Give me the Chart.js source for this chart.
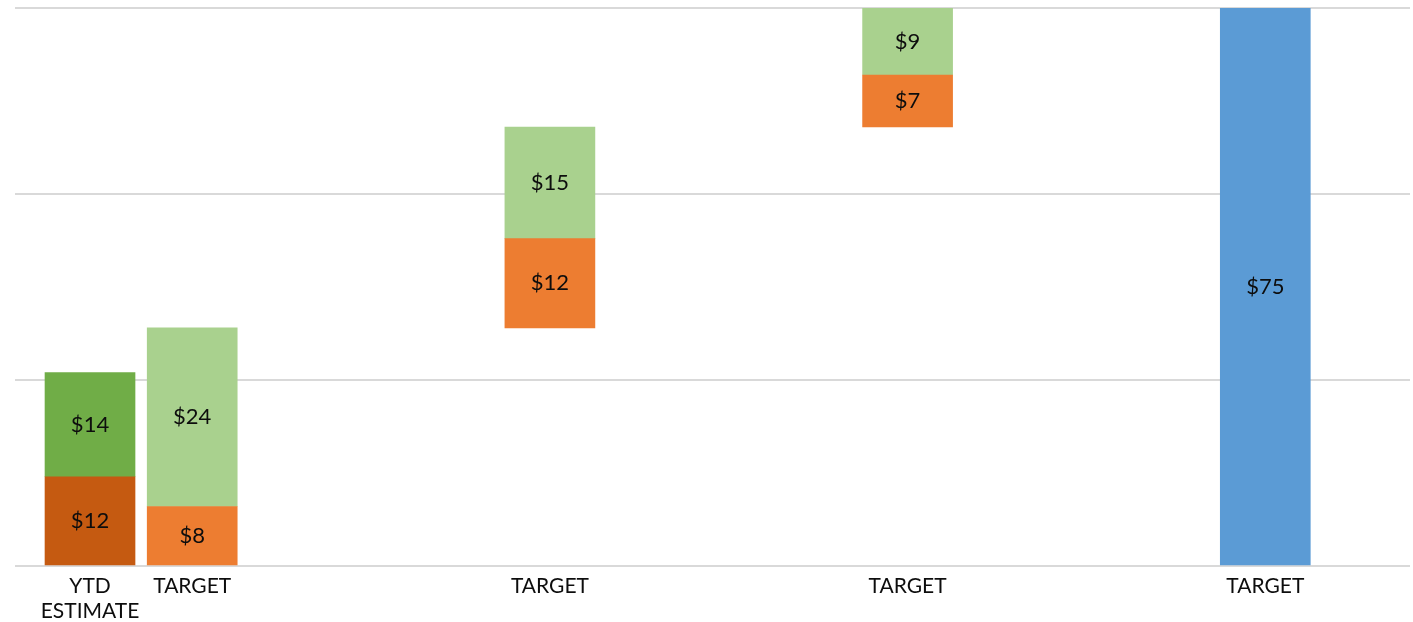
<!DOCTYPE html>
<html><head><meta charset="utf-8">
<script src="https://cdn.jsdelivr.net/npm/chart.js@4.4.1/dist/chart.umd.min.js"></script>
<style>html,body{margin:0;padding:0;background:#fff;overflow:hidden}#wrap{width:1413px;height:622px;position:relative}</style>
</head><body><div id="wrap"><canvas id="c"></canvas></div>
<script>
// Tick labels and their positions along the x axis
const categories = [['YTD', 'ESTIMATE'], 'TARGET', 'TARGET', 'TARGET', 'TARGET'];
const positions = [0, 1, 4.5, 8, 11.5];

// YTD estimate segments
const ytdLow = [12];      // dark orange
const ytdHigh = [14];     // dark green
// Target step segments (positions 1..3)
const targetLow = [8, 12, 7];    // orange
const targetHigh = [24, 15, 9];  // light green
// Final total
const targetTotal = [75];        // blue

const COLORS = {
  darkOrange: '#C55A11', darkGreen: '#70AD47',
  orange: '#ED7D31', lightGreen: '#A9D18E', blue: '#5B9BD5'
};

// Build floating segments from the values
const dDarkOrange = [{x: positions[0], y: [0, ytdLow[0]], v: ytdLow[0]}];
const dDarkGreen = [{x: positions[0], y: [ytdLow[0], ytdLow[0] + ytdHigh[0]], v: ytdHigh[0]}];
const dOrange = [], dLightGreen = [];
let base = 0;
for (let i = 0; i < targetLow.length; i++) {
  const p = positions[i + 1];
  dOrange.push({x: p, y: [base, base + targetLow[i]], v: targetLow[i]});
  base += targetLow[i];
  dLightGreen.push({x: p, y: [base, base + targetHigh[i]], v: targetHigh[i]});
  base += targetHigh[i];
}
const dBlue = [{x: positions[4], y: [0, targetTotal[0]], v: targetTotal[0]}];

const FONT = 'Lato';

const labelPlugin = {
  id: 'segLabels',
  afterDatasetsDraw(chart) {
    const ctx = chart.ctx;
    ctx.save();
    ctx.font = '22px ' + FONT;
    ctx.fillStyle = '#0d0d0d';
    ctx.textAlign = 'center';
    ctx.textBaseline = 'middle';
    chart.data.datasets.forEach((ds, di) => {
      const meta = chart.getDatasetMeta(di);
      meta.data.forEach((el, i) => {
        const v = ds.data[i].v;
        ctx.fillText('$' + v, el.x, (el.y + el.base) / 2);
      });
    });
    ctx.restore();
  }
};

new Chart(document.getElementById('c'), {
  type: 'bar',
  data: {
    datasets: [
      {label: 'YTD low', data: dDarkOrange, backgroundColor: COLORS.darkOrange},
      {label: 'YTD high', data: dDarkGreen, backgroundColor: COLORS.darkGreen},
      {label: 'Target low', data: dOrange, backgroundColor: COLORS.orange},
      {label: 'Target high', data: dLightGreen, backgroundColor: COLORS.lightGreen},
      {label: 'Total', data: dBlue, backgroundColor: COLORS.blue}
    ]
  },
  options: {
    responsive: true,
    maintainAspectRatio: false,
    animation: false,
    parsing: {xAxisKey: 'x', yAxisKey: 'y'},
    datasets: {bar: {grouped: false, barThickness: 90, borderWidth: 0}},
    layout: {padding: {left: 15, right: 3, top: 8, bottom: 0}},
    plugins: {legend: {display: false}, tooltip: {enabled: false}},
    scales: {
      x: {
        type: 'linear',
        min: -0.734, max: 12.916,
        offset: false,
        grid: {display: false, drawTicks: false},
        border: {display: false},
        afterBuildTicks: (scale) => { scale.ticks = positions.map(v => ({value: v})); },
        afterFit: (scale) => { scale.height = 56; },
        ticks: {
          autoSkip: false, maxRotation: 0, minRotation: 0, padding: 8,
          color: '#0d0d0d',
          font: {family: FONT, size: 21, lineHeight: 1.19},
          callback: (value, index) => categories[index]
        }
      },
      y: {
        min: 0, max: 75,
        ticks: {display: false, stepSize: 25},
        grid: {color: '#D9D9D9', lineWidth: 2, drawTicks: false},
        border: {display: false},
        afterFit: (scale) => { scale.width = 0; }
      }
    }
  },
  plugins: [labelPlugin]
});
</script>
</body></html>
